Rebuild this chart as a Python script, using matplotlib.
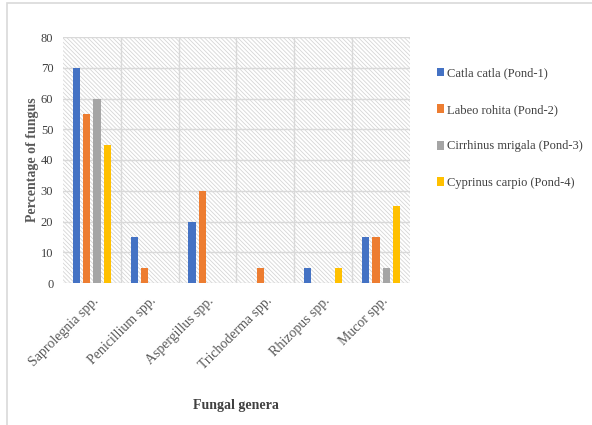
import matplotlib.pyplot as plt
import numpy as np
from matplotlib.patches import Rectangle

# 数据
genera = ['Saprolegnia spp.', 'Penicillium spp.', 'Aspergillus spp.',
          'Trichoderma spp.', 'Rhizopus spp.', 'Mucor spp.']
series_names = ['Catla catla (Pond-1)', 'Labeo rohita (Pond-2)',
                'Cirrhinus mrigala (Pond-3)', 'Cyprinus carpio (Pond-4)']
catla = [70, 15, 20, 0, 5, 15]
labeo = [55, 5, 30, 5, 0, 15]
cirrhinus = [60, 0, 0, 0, 0, 5]
cyprinus = [45, 0, 0, 0, 5, 25]
colors = ['#4472C4', '#ED7D31', '#A5A5A5', '#FFC000']

plt.rcParams['font.family'] = ['Liberation Serif', 'DejaVu Serif']
plt.rcParams['hatch.linewidth'] = 0.6

fig = plt.figure(figsize=(5.92, 4.25), dpi=100)
# 外框
fig.patches.append(Rectangle((7 / 592, -0.01), 1.2, 1 - 3 / 425 + 0.01,
                             transform=fig.transFigure, fill=False,
                             edgecolor='#d9d9d9', linewidth=1.2))

ax = fig.add_axes([63 / 592, 1 - 283 / 425, 347 / 592, 246 / 425])
ax.add_patch(Rectangle((0, 0), 1, 1, transform=ax.transAxes, facecolor='white',
                       edgecolor='#d6d6d6', hatch='\\\\\\\\\\\\\\\\', linewidth=0, zorder=0))

x = np.arange(len(genera))
step = 0.178
width = 0.126
for j, vals in enumerate([catla, labeo, cirrhinus, cyprinus]):
    ax.bar(x + (j - 1.5) * step, vals, width, color=colors[j],
           label=series_names[j], zorder=3)

ax.set_xlim(-0.5, len(genera) - 0.5)
ax.set_ylim(0, 80)
ax.set_yticks(range(0, 81, 10))
for b in np.arange(0.5, len(genera) - 0.5, 1):
    ax.axvline(b, color='#d9d9d9', linewidth=1, zorder=1)
ax.yaxis.grid(True, color='#d9d9d9', linewidth=1, zorder=1)
ax.set_axisbelow(True)
for s in ax.spines.values():
    s.set_visible(False)
ax.tick_params(length=0, colors='#404040')
ax.tick_params(axis='y', pad=7, labelsize=9)

ax.set_xticks(x)
ax.set_xticklabels(genera, rotation=45, ha='right', va='top',
                   rotation_mode='anchor', color='#595959', fontsize=10)
ax.tick_params(axis='x', pad=8)

ax.set_ylabel('Percentage of fungus', fontweight='bold', fontsize=10,
              color='#595959')
ax.yaxis.set_label_coords(-0.07, 0.5)
fig.text(236 / 592, 1 - 406 / 425, 'Fungal genera', fontweight='bold',
         fontsize=10, color='#404040', ha='center', va='center')

# 图例
leg = ax.legend(loc='upper left', bbox_to_anchor=(426 / 592, 1 - 56 / 425),
                bbox_transform=fig.transFigure, frameon=False, fontsize=9,
                handlelength=0.5, handleheight=0.7, handletextpad=0.3,
                labelspacing=1.97, labelcolor='#404040')

plt.savefig('out.png', dpi=100)
